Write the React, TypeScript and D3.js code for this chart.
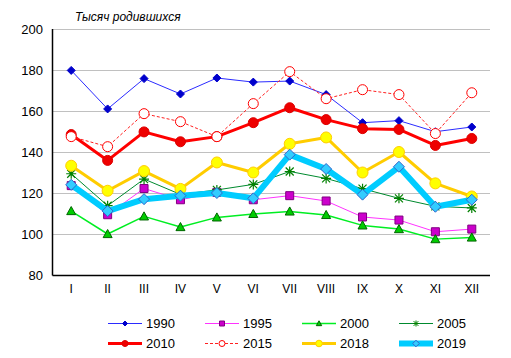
import React, {useEffect, useRef} from 'react'
import * as d3 from 'd3'

const months = ['I', 'II', 'III', 'IV', 'V', 'VI', 'VII', 'VIII', 'IX', 'X', 'XI', 'XII']
const yTicks = [80, 100, 120, 140, 160, 180, 200]

const v1990 = [179.8, 161, 175.8, 168.3, 176.1, 174.1, 174.6, 168, 154.3, 155.3, 149.9, 152.2]
const v1995 = [123.6, 109.4, 122.2, 116.7, 120.3, 116.7, 118.7, 116.1, 108.3, 106.8, 101.1, 102.4]
const v2000 = [111.2, 100, 108.6, 103.4, 108.1, 109.8, 111, 109.3, 104.2, 102.4, 97.5, 98.3]
const v2005 = [129.4, 113.8, 126.8, 119.3, 121.5, 124.2, 130.5, 127.1, 122.1, 117.4, 113.5, 112.7]
const v2010 = [148.5, 135.9, 149.8, 145, 147.5, 154.3, 161.6, 155.8, 151.4, 151, 143.2, 146.6]
const v2015 = [147.5, 142.6, 158.7, 154.8, 147.5, 163.6, 179.2, 166, 170.4, 168, 149, 168.9]
const v2018 = [133.3, 121.1, 130.7, 122, 134.9, 130, 144, 147.1, 130, 140, 124.7, 118.3]
const v2019 = [124, 111.2, 117, 118.7, 120, 117.4, 138.7, 131.7, 119.2, 132.8, 113.3, 116.7]

const series = [
  {name: '1990', values: v1990, color: '#2b2bff', width: 1, dash: null, marker: 'diamond', r: 4, fill: '#0000cc', stroke: '#0000cc'},
  {name: '1995', values: v1995, color: '#ff33ff', width: 1, dash: null, marker: 'square', r: 4, fill: '#cc00cc', stroke: '#800080'},
  {name: '2000', values: v2000, color: '#00ee22', width: 1.5, dash: null, marker: 'triangle', r: 4.5, fill: '#00cc00', stroke: '#006600'},
  {name: '2005', values: v2005, color: '#008a2e', width: 1, dash: null, marker: 'star', r: 5, fill: 'none', stroke: '#008000'},
  {name: '2010', values: v2010, color: '#ff0000', width: 3, dash: null, marker: 'circle', r: 5, fill: '#ee0000', stroke: '#dd0000'},
  {name: '2015', values: v2015, color: '#ff2020', width: 1, dash: '3,2', marker: 'circle', r: 5, fill: '#ffffff', stroke: '#ff0000'},
  {name: '2018', values: v2018, color: '#ffcc00', width: 3, dash: null, marker: 'circle', r: 5.5, fill: '#ffff00', stroke: '#ffcc00'},
  {name: '2019', values: v2019, color: '#00ccff', width: 6, dash: null, marker: 'diamond', r: 5.5, fill: '#33ccff', stroke: '#3366cc'},
]

const markerPath = (type, r) => {
  if (type === 'diamond') return `M0,${-r}L${r},0L0,${r}L${-r},0Z`
  if (type === 'square') return `M${-r},${-r}H${r}V${r}H${-r}Z`
  if (type === 'triangle') return `M0,${-r}L${r},${r * 0.8}L${-r},${r * 0.8}Z`
  if (type === 'star') {
    const d = r * 0.8
    return `M0,${-r}V${r}M${-d},${-d}L${d},${d}M${d},${-d}L${-d},${d}M${-r},0H${r}`
  }
  return d3.symbol(d3.symbolCircle, Math.PI * r * r)()
}

const App = () => {
  const ref = useRef(null)

  useEffect(() => {
    const width = 511
    const height = 358
    const margin = {top: 29, right: 21, bottom: 83, left: 53}

    const svg = d3.select(ref.current)
    svg.selectAll('*').remove()
    svg.attr('font-family', '"Liberation Sans", Arial, sans-serif')

    const x = d3.scaleBand()
      .domain(months)
      .range([margin.left, width - margin.right])

    const y = d3.scaleLinear()
      .domain([80, 200])
      .range([height - margin.bottom, margin.top])

    // grid
    svg.append('g')
      .selectAll('line')
      .data(yTicks.filter(t => t > 80))
      .join('line')
      .attr('x1', margin.left)
      .attr('x2', width - margin.right)
      .attr('y1', d => y(d) + 0.5)
      .attr('y2', d => y(d) + 0.5)
      .attr('stroke', '#c0c0c0')
      .attr('stroke-width', 1)

    // axes
    svg.append('line')
      .attr('x1', margin.left - 0.5).attr('x2', margin.left - 0.5)
      .attr('y1', y(200)).attr('y2', y(80) + 0.5)
      .attr('stroke', '#000').attr('stroke-width', 1.5)
    svg.append('line')
      .attr('x1', margin.left - 0.5).attr('x2', width - margin.right)
      .attr('y1', y(80) + 0.5).attr('y2', y(80) + 0.5)
      .attr('stroke', '#000').attr('stroke-width', 1.5)

    svg.append('g')
      .selectAll('text')
      .data(yTicks)
      .join('text')
      .attr('x', margin.left - 10)
      .attr('y', d => y(d))
      .attr('dy', '0.35em')
      .attr('text-anchor', 'end')
      .attr('font-size', 13)
      .text(d => d)

    svg.append('g')
      .selectAll('text')
      .data(months)
      .join('text')
      .attr('x', d => x(d) + x.bandwidth() / 2)
      .attr('y', y(80) + 14)
      .attr('dy', '0.35em')
      .attr('text-anchor', 'middle')
      .attr('font-size', 12)
      .text(d => d)

    svg.append('text')
      .attr('x', 75)
      .attr('y', 21)
      .attr('font-size', 12)
      .attr('font-style', 'italic')
      .text('Тысяч родившихся')

    const line = d3.line()
      .x((d, i) => x(months[i]) + x.bandwidth() / 2)
      .y(d => y(d))

    series.forEach(s => {
      const g = svg.append('g')
      g.append('path')
        .attr('d', line(s.values))
        .attr('fill', 'none')
        .attr('stroke', s.color)
        .attr('stroke-width', s.width)
        .attr('stroke-dasharray', s.dash)
        .attr('stroke-linejoin', 'round')
      g.selectAll('path.m')
        .data(s.values)
        .join('path')
        .attr('class', 'm')
        .attr('transform', (d, i) => `translate(${x(months[i]) + x.bandwidth() / 2},${y(d)})`)
        .attr('d', markerPath(s.marker, s.r))
        .attr('fill', s.fill)
        .attr('stroke', s.stroke)
        .attr('stroke-width', s.marker === 'star' ? 1.2 : 1)
    })

    // legend
    const legend = svg.append('g')
    series.forEach((s, i) => {
      const col = i % 4
      const row = Math.floor(i / 4)
      const lx = 108 + col * 97
      const ly = 323.5 + row * 20
      const g = legend.append('g').attr('transform', `translate(${lx},${ly})`)
      g.append('line')
        .attr('x1', 0).attr('x2', 34)
        .attr('stroke', s.color)
        .attr('stroke-width', s.width)
        .attr('stroke-dasharray', s.dash)
      g.append('path')
        .attr('transform', 'translate(17,0)')
        .attr('d', markerPath(s.marker, Math.max(2.5, s.r * 0.6)))
        .attr('fill', s.fill)
        .attr('stroke', s.stroke)
      g.append('text')
        .attr('x', 38)
        .attr('dy', '0.35em')
        .attr('font-size', 13)
        .text(s.name)
    })
  }, [])

  return <svg ref={ref} width={511} height={358}
    style={{position: 'absolute', left: 0, top: 0, background: '#fff'}} />
}

export default App
